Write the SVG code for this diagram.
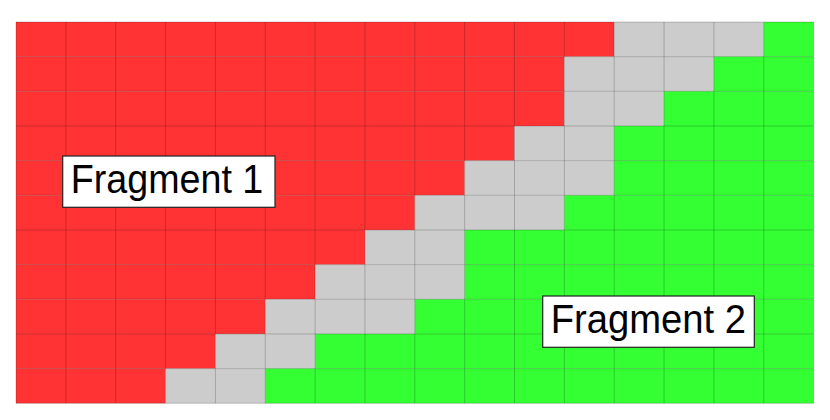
<svg xmlns="http://www.w3.org/2000/svg" width="830" height="420" viewBox="0 0 830 420">
<style>
.r{fill:#ff3333}.g{fill:#cccccc}.n{fill:#33ff33}
.grid{fill:none;stroke:#000;stroke-opacity:0.2;stroke-width:1;vector-effect:non-scaling-stroke}
.box{fill:#fff;stroke:#222;stroke-width:1.2}
.lbl{font-family:"Liberation Sans","DejaVu Sans",sans-serif;font-size:40px;fill:#000}
</style>
<rect width="830" height="420" fill="#fff"/>
<g id="cells" transform="translate(16,22) scale(49.85,34.66)">
<rect class="r" x="0" y="0" width="12" height="1"/><rect class="g" x="12" y="0" width="3" height="1"/><rect class="n" x="15" y="0" width="1" height="1"/>
<rect class="r" x="0" y="1" width="11" height="1"/><rect class="g" x="11" y="1" width="3" height="1"/><rect class="n" x="14" y="1" width="2" height="1"/>
<rect class="r" x="0" y="2" width="11" height="1"/><rect class="g" x="11" y="2" width="2" height="1"/><rect class="n" x="13" y="2" width="3" height="1"/>
<rect class="r" x="0" y="3" width="10" height="1"/><rect class="g" x="10" y="3" width="2" height="1"/><rect class="n" x="12" y="3" width="4" height="1"/>
<rect class="r" x="0" y="4" width="9" height="1"/><rect class="g" x="9" y="4" width="3" height="1"/><rect class="n" x="12" y="4" width="4" height="1"/>
<rect class="r" x="0" y="5" width="8" height="1"/><rect class="g" x="8" y="5" width="3" height="1"/><rect class="n" x="11" y="5" width="5" height="1"/>
<rect class="r" x="0" y="6" width="7" height="1"/><rect class="g" x="7" y="6" width="2" height="1"/><rect class="n" x="9" y="6" width="7" height="1"/>
<rect class="r" x="0" y="7" width="6" height="1"/><rect class="g" x="6" y="7" width="3" height="1"/><rect class="n" x="9" y="7" width="7" height="1"/>
<rect class="r" x="0" y="8" width="5" height="1"/><rect class="g" x="5" y="8" width="3" height="1"/><rect class="n" x="8" y="8" width="8" height="1"/>
<rect class="r" x="0" y="9" width="4" height="1"/><rect class="g" x="4" y="9" width="2" height="1"/><rect class="n" x="6" y="9" width="10" height="1"/>
<rect class="r" x="0" y="10" width="3" height="1"/><rect class="g" x="3" y="10" width="2" height="1"/><rect class="n" x="5" y="10" width="11" height="1"/>
<path class="grid" d="M0 0V11M1 0V11M2 0V11M3 0V11M4 0V11M5 0V11M6 0V11M7 0V11M8 0V11M9 0V11M10 0V11M11 0V11M12 0V11M13 0V11M14 0V11M15 0V11M16 0V11M0 0H16M0 1H16M0 2H16M0 3H16M0 4H16M0 5H16M0 6H16M0 7H16M0 8H16M0 9H16M0 10H16M0 11H16"/>
</g>
<g id="fragment1">
<rect class="box" x="62.7" y="156" width="212.3" height="51.3"/>
<text class="lbl" x="70.7" y="192.7" textLength="192.6" lengthAdjust="spacingAndGlyphs">Fragment 1</text>
</g>
<g id="fragment2">
<rect class="box" x="542.7" y="296" width="211.6" height="51.3"/>
<text class="lbl" x="550.7" y="332.7" textLength="195.3" lengthAdjust="spacingAndGlyphs">Fragment 2</text>
</g>
</svg>
